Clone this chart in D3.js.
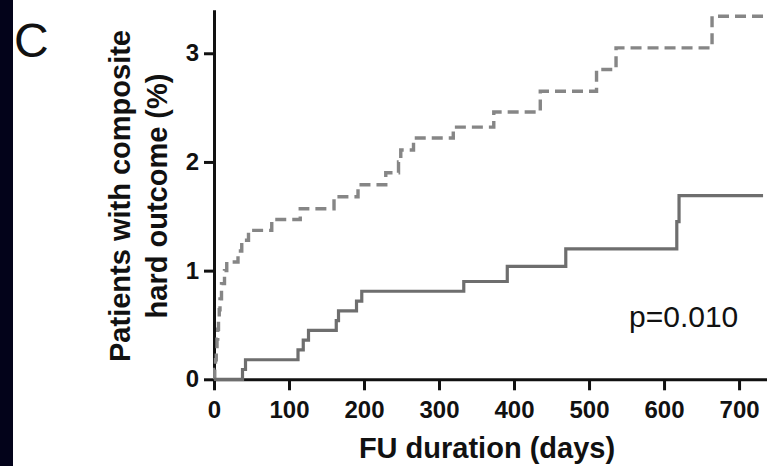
<!DOCTYPE html>
<html>
<head>
<meta charset="utf-8">
<script src="https://cdn.jsdelivr.net/npm/d3@7"></script>
<style>
  body { margin: 0; background: #fff; }
  svg { display: block; }
</style>
</head>
<body>
<svg id="km-chart" width="767" height="466"></svg>
<script>
// follow-up days / cumulative % for each arm
const solidDays = [0, 38, 42, 112, 119, 126, 163, 166, 190, 197, 333, 391, 469, 617, 620, 732];
const solidPct = [0, 0.09, 0.18, 0.27, 0.36, 0.45, 0.54, 0.63, 0.72, 0.81, 0.9, 1.04, 1.2, 1.45, 1.69, 1.69];

const dashedDays = [0, 1, 2, 3, 4, 5, 6, 7, 8, 10, 14, 17, 32, 37, 46, 77, 115, 160, 192, 229, 246, 249, 266, 319, 373, 435, 510, 536, 664, 737];
const dashedPct = [0, 0.09, 0.18, 0.28, 0.37, 0.46, 0.55, 0.64, 0.74, 0.88, 1.0, 1.08, 1.18, 1.28, 1.37, 1.47, 1.57, 1.68, 1.79, 1.9, 2.0, 2.11, 2.22, 2.32, 2.46, 2.65, 2.85, 3.05, 3.34, 3.34];

const xTicks = [0, 100, 200, 300, 400, 500, 600, 700];
const yTicks = [0, 1, 2, 3];

const pLabel = "p=0.010";
const panelLabel = "C";
const xTitle = "FU duration (days)";
const yTitle = ["Patients with composite", "hard outcome (%)"];

(function () {
  const svg = d3.select("#km-chart");
  const font = "'Liberation Sans', Arial, Helvetica, sans-serif";

  svg.append("rect").attr("width", 767).attr("height", 466).attr("fill", "#fff");
  svg.append("rect").attr("width", 13).attr("height", 466).attr("fill", "#03031a");

  const x = d3.scaleLinear().domain([0, 737]).range([214, 766.8]);
  const y = d3.scaleLinear().domain([0, 3.4]).range([379.3, 9.8]);

  const xAxis = svg
    .append("g")
    .attr("transform", `translate(0, ${y(0)})`)
    .call(d3.axisBottom(x).tickValues(xTicks).tickSize(11).tickSizeOuter(0).tickPadding(11));

  const yAxis = svg
    .append("g")
    .attr("transform", `translate(${x(0)}, 0)`)
    .call(
      d3.axisLeft(y).tickValues(yTicks).tickFormat(d3.format("d")).tickSize(10).tickSizeOuter(0).tickPadding(5)
    );

  [xAxis, yAxis].forEach((g) => {
    g.select(".domain").attr("stroke", "#111").attr("stroke-width", 3);
    g.selectAll(".tick line").attr("stroke", "#111").attr("stroke-width", 3);
    g.selectAll(".tick text")
      .attr("fill", "#111")
      .style("font-family", font)
      .style("font-weight", "bold")
      .style("font-size", "24px");
  });

  const line = d3
    .line()
    .x((d) => x(d[0]))
    .y((d) => y(d[1]))
    .curve(d3.curveStepAfter);

  svg
    .append("path")
    .datum(dashedDays.map((d, i) => [d, dashedPct[i]]))
    .attr("d", line)
    .attr("fill", "none")
    .attr("stroke", "#868686")
    .attr("stroke-width", 3.4)
    .attr("stroke-dasharray", "11,6");

  svg
    .append("path")
    .datum(solidDays.map((d, i) => [d, solidPct[i]]))
    .attr("d", line)
    .attr("fill", "none")
    .attr("stroke", "#6e6e6e")
    .attr("stroke-width", 3.2);

  svg
    .append("text")
    .text(panelLabel)
    .attr("x", 14)
    .attr("y", 57)
    .attr("fill", "#111")
    .style("font-family", font)
    .style("font-size", "48px");

  svg
    .append("text")
    .text(pLabel)
    .attr("x", 629)
    .attr("y", 327)
    .attr("fill", "#111")
    .style("font-family", font)
    .style("font-size", "30px");

  svg
    .append("text")
    .text(xTitle)
    .attr("x", 487)
    .attr("y", 458)
    .attr("text-anchor", "middle")
    .attr("fill", "#111")
    .style("font-family", font)
    .style("font-weight", "bold")
    .style("font-size", "29px");

  svg
    .selectAll(null)
    .data(yTitle)
    .enter()
    .append("text")
    .text((d) => d)
    .attr("transform", (d, i) => `translate(${130 + i * 36.7}, 196) rotate(-90)`)
    .attr("text-anchor", "middle")
    .attr("fill", "#111")
    .style("font-family", font)
    .style("font-weight", "bold")
    .style("font-size", "29px");
})();
</script>
</body>
</html>
